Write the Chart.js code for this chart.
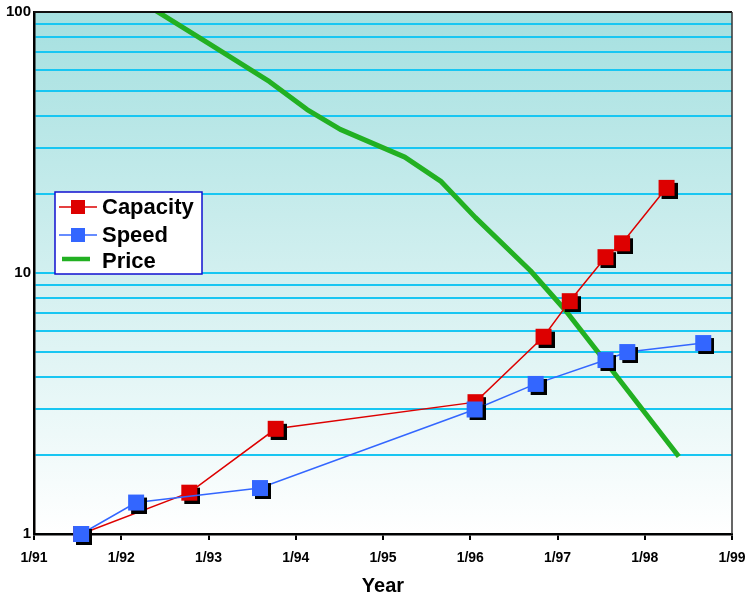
<!DOCTYPE html>
<html>
<head>
<meta charset="utf-8">
<script src="https://cdn.jsdelivr.net/npm/chart.js@4"></script>
<style>
    body { margin: 0; background: #ffffff; }
    #wrap { width: 746px; height: 600px; }
</style>
</head>
<body>
<div id="wrap"><canvas id="trendChart" width="746" height="600"></canvas></div>
<script>
// Data (x = year as decimal, y = log value)
const capacityYears = [1991.54, 1992.78, 1993.77, 1996.06, 1996.84, 1997.14, 1997.55, 1997.74, 1998.25];
const capacityValues = [1.0, 1.44, 2.53, 3.2, 5.7, 7.8, 11.5, 13.0, 21.2];
const speedYears = [1991.54, 1992.17, 1993.59, 1996.05, 1996.75, 1997.55, 1997.80, 1998.67];
const speedValues = [1.0, 1.32, 1.50, 3.0, 3.76, 4.64, 4.98, 5.39];
const priceYears = [1992.40, 1993.01, 1993.70, 1994.13, 1994.51, 1995.25, 1995.66, 1996.06, 1996.69, 1997.09, 1997.49, 1998.39];
const priceValues = [101, 75.5, 54.1, 42.3, 35.5, 27.8, 22.5, 16.3, 10.2, 7.2, 4.85, 1.98];

// Axis ticks
const yearTicks = [1991, 1992, 1993, 1994, 1995, 1996, 1997, 1998, 1999];
const yGridValues = [1, 2, 3, 4, 5, 6, 7, 8, 9, 10, 20, 30, 40, 50, 60, 70, 80, 90, 100];
const yTickLabels = [1, 10, 100];
const seriesNames = ['Capacity', 'Speed', 'Price'];

const FONT = 'Liberation Sans, Arial, Helvetica, sans-serif';

// Build x/y pairs for the library
function toPoints(xs, ys) {
    return xs.map((x, i) => ({ x: x, y: ys[i] }));
}

// Square marker with a black drop shadow, drawn once into a small canvas
function makeMarker(color) {
    const size = 16, off = 3;
    const c = document.createElement('canvas');
    c.width = size + off * 2;
    c.height = size + off * 2;
    const g = c.getContext('2d');
    g.fillStyle = '#000000';
    g.fillRect(off * 2, off * 2, size, size);
    g.fillStyle = color;
    g.fillRect(off, off, size, size);
    return c;
}

// Teal-to-white fill behind the plot
const backgroundPlugin = {
    id: 'plotBackground',
    beforeDraw(chart) {
        const { ctx, chartArea } = chart;
        const grad = ctx.createLinearGradient(0, chartArea.top, 0, chartArea.bottom);
        grad.addColorStop(0, '#a5e0e0');
        grad.addColorStop(1, '#ffffff');
        ctx.save();
        ctx.fillStyle = grad;
        ctx.fillRect(chartArea.left, chartArea.top, chartArea.right - chartArea.left, chartArea.bottom - chartArea.top);
        ctx.restore();
    }
};

// Top and right frame lines plus the boxed legend inside the plot
const framePlugin = {
    id: 'frameAndLegend',
    afterDraw(chart) {
        const { ctx, chartArea } = chart;
        ctx.save();
        ctx.strokeStyle = '#111111';
        ctx.lineWidth = 2;
        ctx.beginPath();
        ctx.moveTo(chartArea.left, chartArea.top);
        ctx.lineTo(chartArea.right, chartArea.top);
        ctx.stroke();
        ctx.lineWidth = 1.5;
        ctx.strokeStyle = '#333333';
        ctx.beginPath();
        ctx.moveTo(chartArea.right, chartArea.top);
        ctx.lineTo(chartArea.right, chartArea.bottom);
        ctx.stroke();

        // legend box
        const bx = 55, by = 192, bw = 147, bh = 82;
        ctx.fillStyle = '#ffffff';
        ctx.fillRect(bx, by, bw, bh);
        ctx.strokeStyle = '#1010d0';
        ctx.lineWidth = 1.5;
        ctx.strokeRect(bx, by, bw, bh);

        const rows = [207, 235, 261];
        const colors = ['#dd0000', '#3366ff', '#22b022'];
        ctx.font = 'bold 22px ' + FONT;
        ctx.textBaseline = 'middle';
        ctx.textAlign = 'left';
        seriesNames.forEach((name, i) => {
            const y = rows[i];
            ctx.strokeStyle = colors[i];
            if (i < 2) {
                ctx.lineWidth = 1.5;
                ctx.beginPath();
                ctx.moveTo(59, y);
                ctx.lineTo(97, y);
                ctx.stroke();
                ctx.fillStyle = colors[i];
                ctx.fillRect(71, y - 7, 14, 14);
            } else {
                ctx.lineWidth = 4.5;
                ctx.beginPath();
                ctx.moveTo(62, y - 2);
                ctx.lineTo(90, y - 2);
                ctx.stroke();
            }
            ctx.fillStyle = '#000000';
            ctx.fillText(name, 102, y + 1);
        });
        ctx.restore();
    }
};

new Chart(document.getElementById('trendChart'), {
    type: 'line',
    data: {
        datasets: [
            {
                label: seriesNames[0],
                data: toPoints(capacityYears, capacityValues),
                borderColor: '#dd0000',
                borderWidth: 1.5,
                pointStyle: makeMarker('#dd0000'),
                pointRadius: 8,
                clip: false,
                order: 2
            },
            {
                label: seriesNames[1],
                data: toPoints(speedYears, speedValues),
                borderColor: '#3366ff',
                borderWidth: 1.5,
                pointStyle: makeMarker('#3366ff'),
                pointRadius: 8,
                clip: false,
                order: 1
            },
            {
                label: seriesNames[2],
                data: toPoints(priceYears, priceValues),
                borderColor: '#22b022',
                borderWidth: 5,
                pointRadius: 0,
                borderJoinStyle: 'round',
                order: 3
            }
        ]
    },
    options: {
        responsive: false,
        animation: false,
        layout: { padding: { top: 9, right: 14, left: 0, bottom: 0 } },
        plugins: {
            legend: { display: false },
            tooltip: { enabled: false }
        },
        scales: {
            x: {
                type: 'linear',
                min: yearTicks[0],
                max: yearTicks[yearTicks.length - 1],
                afterBuildTicks: scale => { scale.ticks = yearTicks.map(v => ({ value: v })); },
                afterFit: scale => {
                    scale.height = 66;
                    scale.paddingLeft = 0;
                    scale.paddingRight = 0;
                },
                ticks: {
                    autoSkip: false,
                    maxRotation: 0,
                    padding: 10,
                    color: '#000000',
                    font: { family: FONT, size: 14, weight: 'bold' },
                    callback: v => '1/' + String(v).slice(2)
                },
                grid: {
                    drawOnChartArea: false,
                    drawTicks: true,
                    tickLength: 6,
                    color: '#000000',
                    lineWidth: 2
                },
                border: { color: '#000000', width: 2.5 },
                title: {
                    display: true,
                    text: 'Year',
                    color: '#000000',
                    font: { family: FONT, size: 20, weight: 'bold' },
                    padding: { top: 0, bottom: 2 }
                }
            },
            y: {
                type: 'logarithmic',
                min: 1,
                max: 100,
                afterBuildTicks: scale => { scale.ticks = yGridValues.map(v => ({ value: v })); },
                afterFit: scale => { scale.width = 34; },
                ticks: {
                    autoSkip: false,
                    padding: 3,
                    color: '#000000',
                    font: { family: FONT, size: 15, weight: 'bold' },
                    callback: v => yTickLabels.includes(v) ? String(v) : ''
                },
                grid: {
                    drawTicks: false,
                    color: '#18c6f2',
                    lineWidth: 2
                },
                border: { color: '#000000', width: 2.5 }
            }
        }
    },
    plugins: [backgroundPlugin, framePlugin]
});
</script>
</body>
</html>
